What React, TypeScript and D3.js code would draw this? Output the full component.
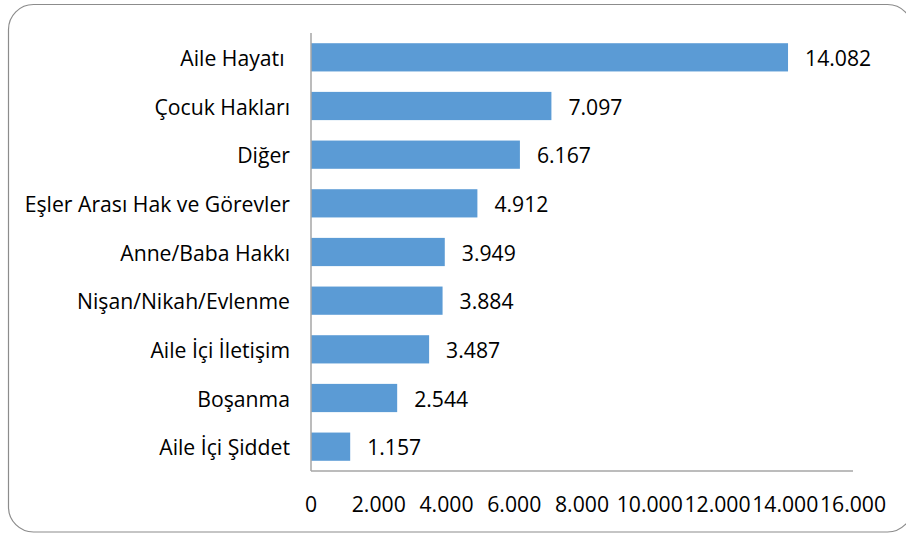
import React from "react";
import * as d3 from "d3";

const categories = [
  "Aile Hayatı ",
  "Çocuk Hakları",
  "Diğer",
  "Eşler Arası Hak ve Görevler",
  "Anne/Baba Hakkı",
  "Nişan/Nikah/Evlenme",
  "Aile İçi İletişim",
  "Boşanma",
  "Aile İçi Şiddet",
];
const values = [14082, 7097, 6167, 4912, 3949, 3884, 3487, 2544, 1157];
const tickValues = [0, 2000, 4000, 6000, 8000, 10000, 12000, 14000, 16000];

const W = 906;
const H = 533;
const FONT = "'Open Sans', sans-serif";
const FS = 21.2;

const fmt = (v: number) => (v === 0 ? "0" : d3.format(",")(v).replace(/,/g, "."));

export default function App() {
  const x = d3.scaleLinear().domain([0, 16000]).range([311, 853]);
  const y = d3.scaleBand<string>().domain(categories).range([33, 471]).paddingInner(0.42).paddingOuter(0.21);
  const x0 = x(0);
  return (
    <svg width={W} height={H} style={{ position: "absolute", left: 0, top: 0 }} fontFamily={FONT}>
      <rect x={0} y={0} width={W} height={H} fill="#fff" />
      <rect x={8.5} y={4.5} width={904} height={527.5} rx={25} ry={25} fill="#fff" stroke="#8c8c8c" strokeWidth={1.2} />
      {categories.map((c, i) => (
        <rect key={c} x={x0} y={y(c)} width={x(values[i]) - x0} height={y.bandwidth()} fill="#5B9BD5" />
      ))}
      <line x1={x0} x2={x0} y1={33} y2={471} stroke="#a6a6a6" strokeWidth={1.5} />
      <line x1={x0} x2={853} y1={471} y2={471} stroke="#a6a6a6" strokeWidth={1.5} />
      {categories.map((c) => (
        <text key={c} x={290} y={(y(c) as number) + y.bandwidth() / 2} textAnchor="end" dominantBaseline="central" fontSize={FS} fill="#000" style={{ whiteSpace: "pre" }}>
          {c}
        </text>
      ))}
      {categories.map((c, i) => (
        <text key={c} x={x(values[i]) + 17} y={(y(c) as number) + y.bandwidth() / 2} dominantBaseline="central" fontSize={FS} fill="#000">
          {fmt(values[i])}
        </text>
      ))}
      {tickValues.map((t) => (
        <text key={t} x={x(t)} y={503} textAnchor="middle" dominantBaseline="central" fontSize={FS} fill="#000">
          {fmt(t)}
        </text>
      ))}
    </svg>
  );
}
